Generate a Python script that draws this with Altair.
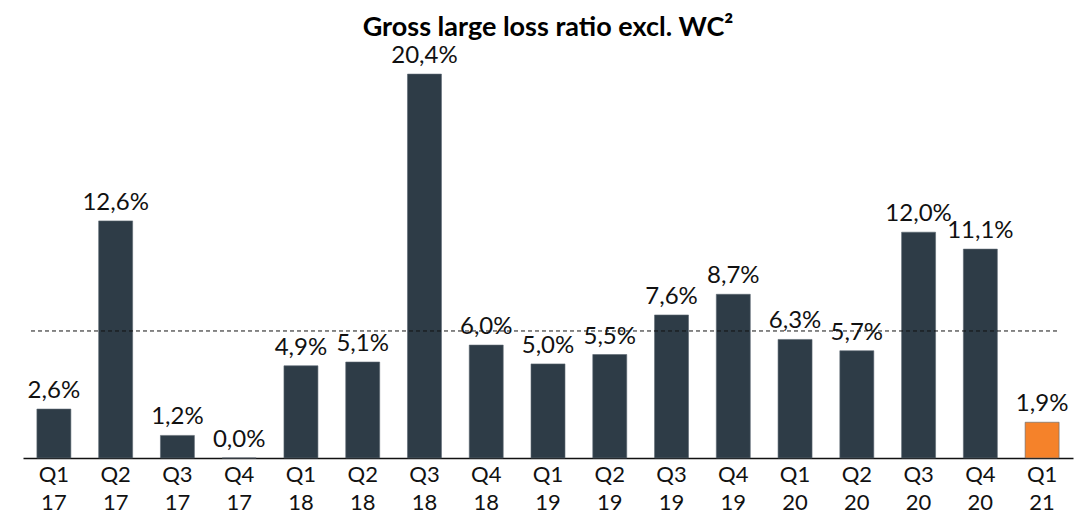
import altair as alt
import pandas as pd

quarters = ["Q1 17", "Q2 17", "Q3 17", "Q4 17", "Q1 18", "Q2 18", "Q3 18", "Q4 18",
            "Q1 19", "Q2 19", "Q3 19", "Q4 19", "Q1 20", "Q2 20", "Q3 20", "Q4 20", "Q1 21"]
values = [2.6, 12.6, 1.2, 0.0, 4.9, 5.1, 20.4, 6.0, 5.0, 5.5, 7.6, 8.7, 6.3, 5.7, 12.0, 11.1, 1.9]
highlight = [False] * 16 + [True]
budget = 6.75

df = pd.DataFrame({
    "q": quarters,
    "v": values,
    "hl": ["yes" if h else "no" for h in highlight],
    "label": [f"{v:.1f}%".replace(".", ",") for v in values],
})

FONT = "Lato"
x = alt.X("q:N", sort=quarters, title=None,
          scale=alt.Scale(paddingInner=0.45, paddingOuter=0.225),
          axis=alt.Axis(labelAngle=0, labelExpr="split(datum.value, ' ')",
                        labelFontSize=22, labelFont=FONT, labelColor="#111111",
                        labelLineHeight=28, labelPadding=6, ticks=False,
                        domainColor="#111111", domainWidth=1.5))
y = alt.Y("v:Q", title=None, scale=alt.Scale(domain=[0, 22], nice=False), axis=None)

bars = alt.Chart(df).mark_bar(stroke="#5b6670", strokeWidth=0.6).encode(
    x=x, y=y,
    color=alt.Color("hl:N", scale=alt.Scale(domain=["no", "yes"], range=["#2E3C47", "#F5822A"]), legend=None),
)
text = alt.Chart(df).mark_text(baseline="alphabetic", dy=-11, fontSize=24, font=FONT, color="#111111").encode(
    x=alt.X("q:N", sort=quarters), y="v:Q", text="label:N"
)
rule = alt.Chart(pd.DataFrame({"b": [budget]})).mark_rule(
    strokeDash=[4, 3], color="#111111", strokeWidth=1
).encode(y="b:Q", x=alt.value(8), x2=alt.value(1035))

chart = alt.layer(bars, rule, text).properties(
    width=1050, height=414,
    title=alt.Title("Gross large loss ratio excl. WC²", fontSize=27, font=FONT, fontWeight="bold",
                    color="#000000", anchor="middle", offset=2),
    padding={"left": 15, "top": 36, "right": 10, "bottom": 62},
    autosize=alt.AutoSizeParams(type="none"),
).configure_view(stroke=None)

chart.save("out.html", embed_options={"renderer": "svg", "actions": False})
